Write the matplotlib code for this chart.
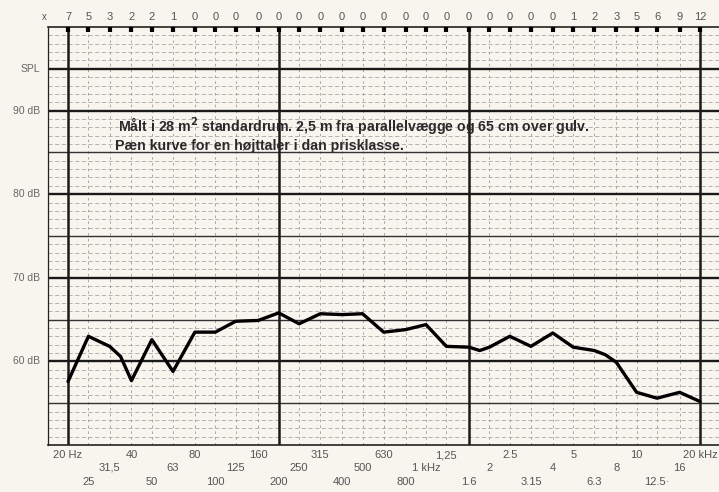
import matplotlib.pyplot as plt

plt.rcParams['font.family'] = ['Liberation Sans', 'DejaVu Sans']

# 1/3-octave bands (Hz) and their printed labels
bands = [20, 25, 31.5, 40, 50, 63, 80, 100, 125, 160, 200, 250, 315, 400, 500, 630,
         800, 1000, 1250, 1600, 2000, 2500, 3150, 4000, 5000, 6300, 8000, 10000,
         12500, 16000, 20000]
band_labels = ['20 Hz', '25', '31,5', '40', '50', '63', '80', '100', '125', '160', '200',
               '250', '315', '400', '500', '630', '800', '1 kHz', '1,25', '1.6', '2',
               '2.5', '3.15', '4', '5', '6.3', '8', '10', '12.5·', '16', '20 kHz']
# numbers printed along the top edge
top_numbers = [7, 5, 3, 2, 2, 1, 0, 0, 0, 0, 0, 0, 0, 0, 0, 0, 0, 0, 0, 0, 0, 0, 0, 0,
               1, 2, 3, 5, 6, 9, 12]
heavy_bands = [20, 200, 1600, 20000]

# measured response curve
curve_freq = [20, 25, 31.5, 35.5, 40, 50, 63, 80, 100, 125, 160, 200, 250, 315, 400,
              500, 630, 800, 1000, 1250, 1600, 1800, 2000, 2500, 3150, 4000, 5000,
              6300, 7100, 8000, 10000, 12500, 16000, 20000]
curve_db = [57.6, 63.0, 61.8, 60.6, 57.7, 62.6, 58.8, 63.5, 63.5, 64.8, 64.9, 65.8,
            64.5, 65.7, 65.6, 65.7, 63.5, 63.8, 64.4, 61.8, 61.7, 61.3, 61.7, 63.0,
            61.8, 63.4, 61.7, 61.3, 60.8, 59.9, 56.3, 55.6, 56.3, 55.2]

db_labels = {95: 'SPL', 90: '90 dB', 80: '80 dB', 70: '70 dB', 60: '60 dB'}

paper = '#f8f5ef'
fig = plt.figure(figsize=(7.19, 4.92), dpi=100, facecolor=paper)
ax = fig.add_axes([48 / 719, 47 / 492, 671 / 719, 418 / 492])
ax.set_facecolor(paper)
ax.set_xscale('log')
ax.set_xlim(16.07, 24600)
ax.set_ylim(50, 100)

# grid
for db in range(51, 100):
    if db % 10 == 0 or db == 95:
        ax.axhline(db, color='#1a1a1a', lw=1.7, zorder=2)
    elif db % 5 == 0:
        ax.axhline(db, color='#333333', lw=1.0, zorder=2)
    else:
        ax.axhline(db, color='#a8a8a8', lw=0.6, ls=(0, (5, 3)), zorder=1)
for f in bands:
    if f in heavy_bands:
        ax.axvline(f, color='#1a1a1a', lw=1.8, zorder=2)
    else:
        ax.axvline(f, color='#999999', lw=0.6, ls=(0, (3, 4)), zorder=1)
ax.vlines(bands, 99.35, 100, color='black', lw=3, zorder=3)

ax.plot(curve_freq, curve_db, color='black', lw=2.4, solid_joinstyle='round',
        solid_capstyle='round', zorder=5)

for s in ['top', 'bottom', 'left']:
    ax.spines[s].set_color('#222222')
    ax.spines[s].set_linewidth(1.2)
ax.spines['left'].set_linewidth(0.9)
ax.spines['right'].set_visible(False)
ax.set_xticks([])
ax.set_yticks([])
ax.minorticks_off()

# bottom labels in three staggered rows
row_y = [-0.024, -0.088, -0.055]
for i, (f, lab) in enumerate(zip(bands, band_labels)):
    ax.text(f, row_y[i % 3], lab, transform=ax.get_xaxis_transform(), ha='center',
            va='center', fontsize=8, color='#555555', clip_on=False)

# top numbers
ax.text(-0.005, 1.024, 'x', transform=ax.transAxes, ha='center', va='center',
        fontsize=7, color='#555555')
for f, n in zip(bands, top_numbers):
    ax.text(f, 1.024, str(n), transform=ax.get_xaxis_transform(), ha='center',
            va='center', fontsize=8, color='#555555')

# dB labels
for db, lab in db_labels.items():
    ax.text(-0.012, db, lab, transform=ax.get_yaxis_transform(), ha='right',
            va='center', fontsize=7.5, color='#666666')

ax.text(34.5, 87.6, 'Målt i 28 m$^\\mathbf{2}$ standardrum. 2,5 m fra parallelvægge og 65 cm over gulv.',
        fontsize=10.2, fontweight='bold', color='#2a2a2a', zorder=6)
ax.text(33.4, 85.3, 'Pæn kurve for en højttaler i dan prisklasse.',
        fontsize=10.2, fontweight='bold', color='#2a2a2a', zorder=6)

plt.savefig('out.png', dpi=100, facecolor=paper)
